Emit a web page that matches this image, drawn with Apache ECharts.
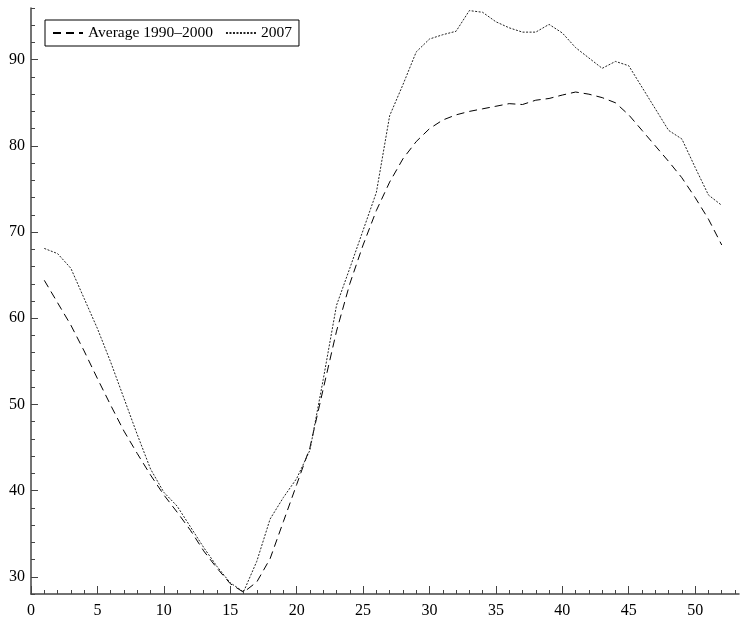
<!DOCTYPE html>
<html>
<head>
<meta charset="utf-8">
<script src="https://cdn.jsdelivr.net/npm/echarts@6/dist/echarts.min.js"></script>
<style>
  html, body { margin: 0; padding: 0; background: #fff; }
  #chart { width: 740px; height: 619px; }
</style>
</head>
<body>
<div id="chart"></div>
<script>
  // week numbers
  var weeks = [];
  for (var w = 1; w <= 52; w++) weeks.push(w);

  var avg19902000 = [64.4, 61.8, 59.2, 56.2, 53.0, 49.9, 46.9, 44.3, 41.8, 39.5,
    37.5, 35.4, 33.0, 31.0, 29.2, 28.2, 29.4, 32.1, 36.4, 40.7,
    45.0, 51.8, 58.5, 64.0, 68.5, 72.5, 75.8, 78.5, 80.5, 82.0,
    83.0, 83.6, 84.0, 84.3, 84.6, 84.9, 84.8, 85.3, 85.5, 85.9,
    86.25, 86.0, 85.6, 85.0, 83.6, 81.8, 80.0, 78.2, 76.3, 74.0,
    71.5, 68.5]

  var y2007 = [68.1, 67.5, 65.8, 62.3, 58.8, 54.9, 50.7, 46.5, 42.5, 39.8,
    38.2, 35.8, 33.4, 31.2, 29.3, 28.25, 31.8, 36.7, 39.2, 41.4,
    44.7, 52.9, 61.5, 65.8, 70.2, 74.6, 83.5, 87.1, 90.9, 92.4,
    92.9, 93.3, 95.7, 95.5, 94.4, 93.7, 93.2, 93.2, 94.1, 93.1,
    91.4, 90.2, 89.0, 89.8, 89.3, 86.8, 84.3, 81.8, 80.8, 77.5,
    74.3, 73.1]

  var xTicks = [0, 5, 10, 15, 20, 25, 30, 35, 40, 45, 50]
  var yTicks = [30, 40, 50, 60, 70, 80, 90]
  var xMinor = []
  for (var i = 0; i <= 53; i++) xMinor.push(i)
  var yMinor = []
  for (var j = 28; j <= 96; j += 2) yMinor.push(j)

  var font = 'Liberation Serif'
  var axisCol = '#444'

  function pairs(vals) {
    return vals.map(function (v, k) { return [weeks[k], v] })
  }

  var chart = echarts.init(document.getElementById('chart'))
  chart.setOption({
    animation: false,
    textStyle: { fontFamily: font },
    grid: { left: 31, right: 1, top: 8, bottom: 23, containLabel: false },
    legend: {
      left: 45,
      top: 20,
      padding: [5, 7],
      itemWidth: 30,
      itemHeight: 12,
      itemGap: 12,
      borderColor: '#000',
      borderWidth: 1,
      borderRadius: 0,
      itemStyle: { opacity: 0 },
      textStyle: { fontFamily: font, fontSize: 15.5, color: '#000' },
      data: ['Average 1990–2000', '2007']
    },
    xAxis: [
      {
        type: 'value',
        min: 0,
        max: 53.3,
        axisLine: { lineStyle: { color: axisCol, width: 1.5 } },
        axisTick: { inside: true, length: 8, customValues: xTicks, lineStyle: { color: axisCol } },
        axisLabel: { customValues: xTicks, fontFamily: font, fontSize: 16, color: '#000', margin: 9 },
        splitLine: { show: false }
      },
      {
        type: 'value',
        min: 0,
        max: 53.3,
        position: 'bottom',
        axisLine: { show: false },
        axisTick: { inside: true, length: 4, customValues: xMinor, lineStyle: { color: axisCol } },
        axisLabel: { show: false },
        splitLine: { show: false }
      }
    ],
    yAxis: [
      {
        type: 'value',
        min: 28,
        max: 96,
        axisLine: { show: true, lineStyle: { color: axisCol, width: 1.5 } },
        axisTick: { show: true, inside: true, length: 7, customValues: yTicks, lineStyle: { color: axisCol } },
        axisLabel: { customValues: yTicks, fontFamily: font, fontSize: 16, color: '#000', margin: 6 },
        splitLine: { show: false }
      },
      {
        type: 'value',
        min: 28,
        max: 96,
        position: 'left',
        axisLine: { show: false },
        axisTick: { show: true, inside: true, length: 4, customValues: yMinor, lineStyle: { color: axisCol } },
        axisLabel: { show: false },
        splitLine: { show: false }
      }
    ],
    series: [
      {
        name: 'Average 1990–2000',
        type: 'line',
        data: pairs(avg19902000),
        symbol: 'none',
        color: '#000',
        lineStyle: { color: '#000', width: 1, type: [8, 5] }
      },
      {
        name: '2007',
        type: 'line',
        data: pairs(y2007),
        symbol: 'none',
        color: '#222',
        lineStyle: { color: '#222', width: 1, type: [2, 1.5] }
      }
    ]
  })
</script>
</body>
</html>
